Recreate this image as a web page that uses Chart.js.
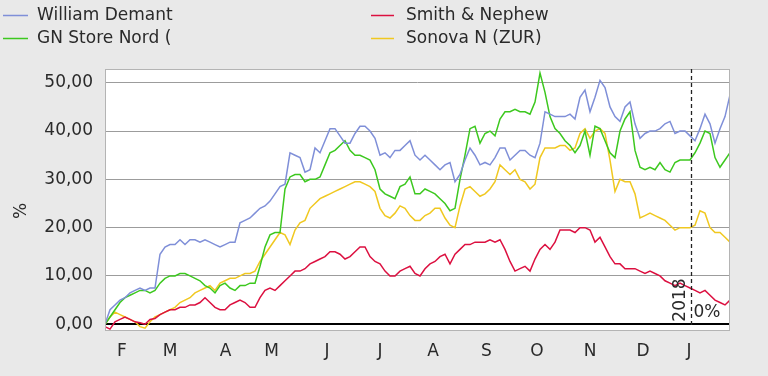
<!DOCTYPE html>
<html>
<head>
<meta charset="utf-8">
<script src="https://cdn.jsdelivr.net/npm/chart.js@4/dist/chart.umd.min.js"></script>
<style>
  html, body { margin: 0; padding: 0; background: #e9e9e9; }
  #wrap { width: 768px; height: 376px; }
</style>
</head>
<body>
<div id="wrap"><canvas id="chart" width="768" height="376"></canvas></div>
<script>
// legend names, in the order of the series below
var names = ['William Demant', 'GN Store Nord (', 'Smith & Nephew', 'Sonova N (ZUR)'];

var williamDemant = [0, 3, 4, 5, 5.5, 6.5, 7, 7.5, 7, 7.5, 7.5, 14.5, 16, 16.5, 16.5, 17.5, 16.5, 17.5, 17.5, 17, 17.5,
  17, 16.5, 16, 16.5, 17, 17, 21, 21.5, 22, 23, 24, 24.5, 25.5, 27, 28.5, 29, 35.5, 35, 34.5, 31.5, 32,
  36.5, 35.5, 38, 40.5, 40.5, 39, 37.5, 37.5, 39.5, 41, 41, 40, 38.5, 35, 35.5, 34.5, 36, 36, 37, 38, 35,
  34, 35, 34, 33, 32, 33, 33.5, 29.5, 31, 34, 36.5, 35, 33, 33.5, 33, 34.5, 36.5, 36.5, 34, 35, 36,
  36, 35, 34.5, 37.5, 44, 43.5, 43, 43, 43, 43.5, 42.5, 47, 48.5, 44, 47, 50.5, 49, 45, 43, 42, 45, 46,
  41.5, 38.5, 39.5, 40, 40, 40.5, 41.5, 42, 39.5, 40, 40, 39, 38, 40.5, 43.5, 41.5, 37.5, 40.5, 43, 47.5];

var gnStoreNord = [0, 1.5, 3, 4.5, 5.5, 6, 6.5, 7, 7, 6.5, 7, 8.5, 9.5, 10, 10, 10.5, 10.5, 10, 9.5, 9, 8,
  7.5, 6.5, 8, 8.5, 7.5, 7, 8, 8, 8.5, 8.5, 12, 16, 18.5, 19, 19, 28, 30.5, 31, 31, 29.5, 30,
  30, 30.5, 33, 35.5, 36, 37, 38, 36, 35, 35, 34.5, 34, 32, 28, 27, 26.5, 26, 28.5, 29, 30.5, 27,
  27, 28, 27.5, 27, 26, 25, 23.5, 24, 30, 35, 40.5, 41, 37.5, 39.5, 40, 39, 42.5, 44, 44, 44.5, 44,
  44, 43.5, 46, 52, 48, 43, 40.5, 39.5, 38, 37, 35.5, 37, 40, 35, 41, 40.5, 38, 35.5, 34.5, 40, 42.5, 44,
  36, 32.5, 32, 32.5, 32, 33.5, 32, 31.5, 33.5, 34, 34, 34, 35.5, 37.5, 40, 39.5, 34.5, 32.5, 34, 35.5];

var smithNephew = [-0.5, -1, 0.5, 1, 1.5, 1, 0.5, 0.3, 0, 1, 1.2, 2, 2.5, 3, 3, 3.5, 3.5, 4, 4, 4.5, 5.5,
  4.5, 3.5, 3, 3, 4, 4.5, 5, 4.5, 3.5, 3.5, 5.5, 7, 7.5, 7, 8, 9, 10, 11, 11, 11.5, 12.5,
  13, 13.5, 14, 15, 15, 14.5, 13.5, 14, 15, 16, 16, 14, 13, 12.5, 11, 10, 10, 11, 11.5, 12, 10.5,
  10, 11.5, 12.5, 13, 14, 14.5, 12.5, 14.5, 15.5, 16.5, 16.5, 17, 17, 17, 17.5, 17, 17.5, 15.5, 13, 11, 11.5,
  12, 11, 13.5, 15.5, 16.5, 15.5, 17, 19.5, 19.5, 19.5, 19, 20, 20, 19.5, 17, 18, 16, 14, 12.5, 12.5, 11.5, 11.5,
  11.5, 11, 10.5, 11, 10.5, 10, 9, 8.5, 8, 8.5, 8, 7.5, 7, 6.5, 7, 6, 5, 4.5, 4, 5];

var sonova = [0, 1.5, 2.5, 2, 1.5, 1, 0.5, -0.5, -0.8, 0.5, 1.5, 2, 2.5, 3, 3.5, 4.5, 5, 5.5, 6.5, 7, 7.5,
  8, 7, 8.5, 9, 9.5, 9.5, 10, 10.5, 10.5, 11, 13, 14.5, 16, 17.5, 19, 18.5, 16.5, 19.5, 21, 21.5, 24,
  25, 26, 26.5, 27, 27.5, 28, 28.5, 29, 29.5, 29.5, 29, 28.5, 27.5, 24, 22.5, 22, 23, 24.5, 24, 22.5, 21.5,
  21.5, 22.5, 23, 24, 24, 22, 20.5, 20, 24.5, 28, 28.5, 27.5, 26.5, 27, 28, 29.5, 33, 32, 31, 32, 30,
  29.5, 28, 29, 34.5, 36.5, 36.5, 36.5, 37, 37, 36, 36.5, 39.5, 40.5, 38.5, 40, 40.5, 39.5, 34, 27.5, 30, 29.5, 29.5,
  27, 22, 22.5, 23, 22.5, 22, 21.5, 20.5, 19.5, 20, 20, 20, 20.5, 23.5, 23, 20, 19, 19, 18, 17];

// x axis counts trading days; month letters sit on the first trading day of each month
var monthLabels = ['F', 'M', 'A', 'M', 'J', 'J', 'A', 'S', 'O', 'N', 'D', 'J'];
var monthStarts = [7, 27, 50, 69, 92, 114, 136, 158, 179, 201, 223, 242];
var totalDays = 259;
var yearBreak = 243;      // first trading day of 2018
var yearText = '2018';
var yearPct = '0%';

var yTicks = [0, 10, 20, 30, 40, 50];

var colors = ['#7f8fd8', '#3cc81e', '#dc1040', '#f0c820'];
var FONT = 'DejaVu Sans';
var TEXT = '#2a2a2a';

// spread the readings evenly over the trading days
function toPoints(arr) {
    var step = totalDays / (arr.length - 1);
    return arr.map(function (v, i) { return { x: i * step, y: v }; });
}

var series = [williamDemant, gnStoreNord, smithNephew, sonova];
var datasets = series.map(function (arr, i) {
    return {
        label: names[i],
        data: toPoints(arr),
        borderColor: colors[i],
        backgroundColor: colors[i],
        borderWidth: 1.5,
        pointRadius: 0,
        tension: 0
    };
});

// white plot area, frame, year marker, legend and the % title
var decor = {
    id: 'decor',
    beforeDraw: function (chart) {
        var c = chart.ctx, a = chart.chartArea;
        c.save();
        c.fillStyle = '#ffffff';
        c.fillRect(a.left, a.top, a.right - a.left, a.bottom - a.top);
        c.restore();
    },
    afterDatasetsDraw: function (chart) {
        var c = chart.ctx, a = chart.chartArea;
        var xs = chart.scales.x;
        var bx = Math.round(xs.getPixelForValue(yearBreak)) + 0.5;
        c.save();
        // frame
        c.strokeStyle = '#b4b4b4';
        c.lineWidth = 1;
        c.strokeRect(a.left + 0.5, a.top + 0.5, a.right - a.left - 1, a.bottom - a.top - 1);
        // year break
        c.strokeStyle = '#222';
        c.lineWidth = 1.3;
        c.setLineDash([4, 3]);
        c.beginPath();
        c.moveTo(bx, a.top);
        c.lineTo(bx, a.bottom - 3);
        c.stroke();
        c.setLineDash([]);
        c.fillStyle = TEXT;
        c.font = '17px "' + FONT + '"';
        c.textBaseline = 'middle';
        c.textAlign = 'left';
        c.fillText(yearPct, bx + 2, 313);
        c.translate(bx - 11, 300);
        c.rotate(-Math.PI / 2);
        c.textAlign = 'center';
        c.fillText(yearText, 0, 0);
        c.restore();
    },
    afterDraw: function (chart) {
        var c = chart.ctx;
        var cols = [{ x0: 3, x1: 28, tx: 37 }, { x0: 371, x1: 394, tx: 406 }];
        var rows = [15.5, 38.5];
        var place = [[0, 0], [0, 1], [1, 0], [1, 1]];   // [column, row] per series
        c.save();
        c.font = '17px "' + FONT + '"';
        c.textBaseline = 'middle';
        c.textAlign = 'left';
        chart.data.datasets.forEach(function (ds, i) {
            var col = cols[place[i][0]], y = rows[place[i][1]];
            c.strokeStyle = ds.borderColor;
            c.lineWidth = 1.5;
            c.beginPath();
            c.moveTo(col.x0, y);
            c.lineTo(col.x1, y);
            c.stroke();
            c.fillStyle = TEXT;
            c.fillText(ds.label, col.tx, y);
        });
        // y axis title
        c.translate(22, 211);
        c.rotate(-Math.PI / 2);
        c.textAlign = 'center';
        c.fillText('%', 0, 0);
        c.restore();
    }
};

var ctx = document.getElementById('chart').getContext('2d');
var chart = new Chart(ctx, {
    type: 'line',
    data: { datasets: datasets },
    plugins: [decor],
    options: {
        responsive: false,
        animation: false,
        devicePixelRatio: 1,
        layout: { padding: { top: 69, right: 38, left: 0, bottom: 0 } },
        plugins: { legend: { display: false }, tooltip: { enabled: false } },
        scales: {
            x: {
                type: 'linear',
                min: 0,
                max: totalDays,
                grid: { display: false, drawTicks: false },
                border: { display: false },
                afterBuildTicks: function (s) {
                    s.ticks = monthStarts.map(function (v) { return { value: v }; });
                },
                afterFit: function (s) { s.height = 45; },
                ticks: {
                    autoSkip: false,
                    maxRotation: 0,
                    padding: 10,
                    color: TEXT,
                    font: { family: FONT, size: 17 },
                    callback: function (v, i) { return monthLabels[i]; }
                }
            },
            y: {
                min: -1.4,
                max: 52.85,
                afterBuildTicks: function (s) {
                    s.ticks = yTicks.map(function (v) { return { value: v }; });
                },
                afterFit: function (s) { s.width = 105; },
                grid: {
                    drawTicks: false,
                    color: function (c) { return c.tick && c.tick.value === 0 ? '#000' : '#9c9c9c'; },
                    lineWidth: function (c) { return c.tick && c.tick.value === 0 ? 2 : 1; }
                },
                border: { display: false },
                ticks: {
                    padding: 12,
                    color: TEXT,
                    font: { family: FONT, size: 17 },
                    callback: function (v) { return v.toFixed(2).replace('.', ','); }
                }
            }
        }
    }
});
</script>
</body>
</html>
